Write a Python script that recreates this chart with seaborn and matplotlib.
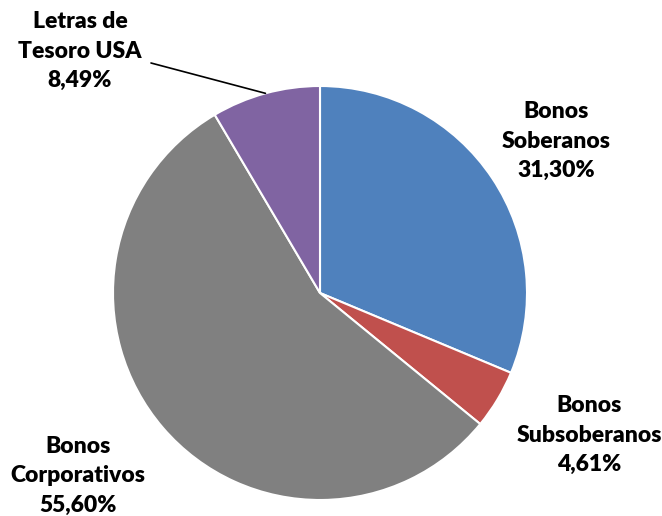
import numpy as np
import matplotlib.pyplot as plt
import seaborn as sns

sns.set_theme(style="white")
plt.rcParams['font.family'] = ['Lato', 'DejaVu Sans']

# data
categories = ["Bonos\nSoberanos", "Bonos\nSubsoberanos", "Bonos\nCorporativos", "Letras de\nTesoro USA"]
shares = [31.30, 4.61, 55.60, 8.49]
pct_labels = ["31,30%", "4,61%", "55,60%", "8,49%"]
colors = ["#4F81BD", "#C0504D", "#808080", "#8064A2"]

fig = plt.figure(figsize=(6.62, 5.16), dpi=100)
ax = fig.add_axes([0, 0, 1, 1])

cx, cy, r = 320, 223, 207
wedges, _ = ax.pie(shares, colors=colors, startangle=90, counterclock=False,
                   center=(cx, cy), radius=r, frame=True,
                   wedgeprops=dict(edgecolor="white", linewidth=1.5))
ax.set_xlim(0, 662)
ax.set_ylim(0, 516)
ax.set_aspect("equal")
ax.axis("off")

# label positions (pixel coords, y from top)
label_pos = [(556, 141), (589, 435), (78, 476), (80, 51)]
for cat, pct, (x, y) in zip(categories, pct_labels, label_pos):
    ax.text(x, 516 - y, cat + "\n" + pct, ha="center", va="center",
            fontsize=16.5, fontweight="heavy", color="black", linespacing=1.5)

# leader line for the small purple slice
w = wedges[3]
ang = np.deg2rad((w.theta1 + w.theta2) / 2)
ex, ey = cx + r * np.cos(ang), cy + r * np.sin(ang)
ax.plot([151, ex], [516 - 63, ey], color="black", linewidth=1.2)

fig.savefig("out.png", dpi=100)
